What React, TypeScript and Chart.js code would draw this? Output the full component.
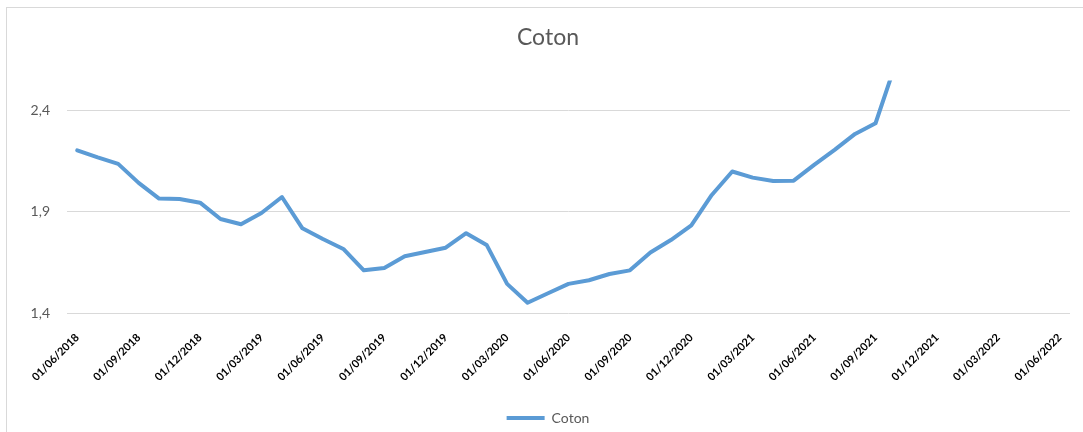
import React, { useEffect, useRef } from 'react';
import { Chart, registerables } from 'chart.js';

Chart.register(...registerables);

const TITLE = 'Coton';
const SERIES_NAME = 'Coton';

const CATEGORIES = [
  '01/06/2018', '01/07/2018', '01/08/2018', '01/09/2018', '01/10/2018', '01/11/2018',
  '01/12/2018', '01/01/2019', '01/02/2019', '01/03/2019', '01/04/2019', '01/05/2019',
  '01/06/2019', '01/07/2019', '01/08/2019', '01/09/2019', '01/10/2019', '01/11/2019',
  '01/12/2019', '01/01/2020', '01/02/2020', '01/03/2020', '01/04/2020', '01/05/2020',
  '01/06/2020', '01/07/2020', '01/08/2020', '01/09/2020', '01/10/2020', '01/11/2020',
  '01/12/2020', '01/01/2021', '01/02/2021', '01/03/2021', '01/04/2021', '01/05/2021',
  '01/06/2021', '01/07/2021', '01/08/2021', '01/09/2021', '01/10/2021', '01/11/2021',
  '01/12/2021', '01/01/2022', '01/02/2022', '01/03/2022', '01/04/2022', '01/05/2022',
  '01/06/2022',
];

const COTON = [
  2.205, 2.17, 2.138, 2.044, 1.966, 1.964,
  1.946, 1.865, 1.839, 1.895, 1.974, 1.819,
  1.766, 1.717, 1.611, 1.623, 1.681, 1.702,
  1.723, 1.795, 1.737, 1.544, 1.451, 1.498,
  1.544, 1.562, 1.593, 1.611, 1.699, 1.761,
  1.834, 1.984, 2.1, 2.07, 2.053, 2.055,
  2.133, 2.207, 2.286, 2.339, 2.64,
];

const Y_TICKS = [1.4, 1.9, 2.4];
const Y_MIN = 1.4;
const Y_MAX = 2.55;
const LABEL_EVERY = 3;

const FONT = 'Lato, "Noto Sans", sans-serif';

export default function App() {
  const ref = useRef<HTMLCanvasElement>(null);

  useEffect(() => {
    if (!ref.current) return;
    const chart = new Chart(ref.current, {
      type: 'line',
      data: {
        labels: CATEGORIES,
        datasets: [
          {
            label: SERIES_NAME,
            data: COTON,
            borderColor: '#5b9bd5',
            backgroundColor: '#5b9bd5',
            borderWidth: 4,
            pointRadius: 0,
            pointHoverRadius: 0,
            tension: 0,
            fill: false,
            borderJoinStyle: 'round',
            borderCapStyle: 'round',
            clip: 0,
          } as any,
        ],
      },
      options: {
        responsive: false,
        animation: false,
        layout: { padding: { left: 26, right: 18, top: 0, bottom: 0 } },
        plugins: {
          tooltip: { enabled: false },
          title: {
            display: true,
            text: TITLE,
            color: '#595959',
            font: { family: FONT, size: 23, weight: 'normal' },
            padding: { top: 24, bottom: 29 },
          },
          legend: {
            display: true,
            position: 'bottom',
            labels: {
              usePointStyle: true,
              pointStyle: 'line',
              pointStyleWidth: 38,
              color: '#595959',
              font: { family: FONT, size: 14 },
              padding: 10,
            },
          },
        },
        scales: {
          x: {
            offset: true,
            grid: { display: false, drawTicks: false },
            border: { display: false },
            ticks: {
              autoSkip: false,
              minRotation: 45,
              maxRotation: 45,
              padding: 18,
              color: '#000000',
              font: { family: FONT, size: 11, weight: 'bold' },
              callback: (_v: any, i: number) => (i % LABEL_EVERY === 0 ? CATEGORIES[i] : ''),
            },
            afterFit: (s: any) => {
              s.height = 88;
            },
          },
          y: {
            min: Y_MIN,
            max: Y_MAX,
            grid: { color: '#d9d9d9', lineWidth: 1, drawTicks: false },
            border: { display: false },
            ticks: {
              padding: 17,
              color: '#595959',
              font: { family: FONT, size: 14 },
              callback: (v: any) => Number(v).toFixed(1).replace('.', ','),
            },
            afterBuildTicks: (s: any) => {
              s.ticks = Y_TICKS.map((v) => ({ value: v }));
            },
            afterFit: (s: any) => {
              s.width = 41;
            },
          },
        },
      },
    });
    return () => chart.destroy();
  }, []);

  return (
    <div
      style={{
        position: 'fixed',
        left: 0,
        top: 0,
        width: 1083,
        height: 432,
        overflow: 'hidden',
        background: '#ffffff',
      }}
    >
      <div
        style={{
          position: 'absolute',
          left: 6,
          top: 7,
          width: 1100,
          height: 440,
          border: '1px solid #d9d9d9',
        }}
      />
      <canvas
        ref={ref}
        width={1088}
        height={435}
        style={{ position: 'absolute', left: 0, top: 0, width: 1088, height: 435 }}
      />
    </div>
  );
}
